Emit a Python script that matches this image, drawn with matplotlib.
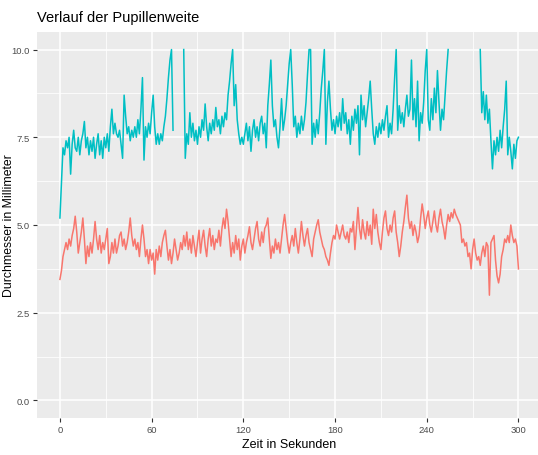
import numpy as np
import matplotlib
matplotlib.use("Agg")
import matplotlib.pyplot as plt
from matplotlib import font_manager

nan = np.nan

# Zeitachse in Sekunden (1 Wert pro Sekunde)
zeit = list(range(0, 301))

# Pupillendurchmesser in mm, Werte > 10 liegen ausserhalb der Skala (nan)
auge_oben = [
    5.2, 6.2, 7.2, 7.0, 7.4, 7.2, 7.5, 6.45, 7.3, 7.7,
    7.2, 7.1, 7.5, 7.0, 7.4, 7.6, 7.95, 7.2, 7.5, 7.0,
    7.4, 7.1, 7.5, 6.9, 7.3, 7.6, 7.0, 7.4, 6.9, 7.5,
    7.2, 7.6, 7.1, 7.8, 8.3, 7.6, 7.9, 7.6, 7.5, 7.7,
    7.3, 6.9, 8.7, 8.1, 7.6, 7.8, 7.4, 7.7, 7.5, 7.8,
    7.5, 8.0, 7.6, 8.3, 9.2, 6.85, 7.8, 7.5, 7.9, 7.6,
    8.2, 8.7, 7.8, 7.3, 7.6, 7.3, 7.6, 7.4, 7.8, 8.1,
    8.6, 9.2, 9.7, 10.0, 7.7, nan, nan, nan, nan, nan,
    nan, 10.0, 6.9, 7.6, 7.3, 8.2, 7.5, 7.9, 7.4, 7.7,
    7.3, 7.8, 7.5, 8.0, 7.7, 8.45, 7.8, 7.4, 7.9, 7.6,
    8.0, 7.7, 8.35, 7.8, 8.0, 7.6, 8.1, 7.8, 8.2, 8.0,
    8.7, 9.1, 9.6, 10.0, 8.4, 9.0, 8.0, 7.6, 7.3, 7.5,
    7.3, 7.6, 7.9, 7.4, 7.8, 7.1, 7.7, 8.0, 7.5, 7.8,
    7.4, 7.9, 8.1, 7.6, 7.9, 7.2, 8.4, 9.0, 9.7, 8.4,
    7.8, 8.0, 7.5, 7.2, 7.8, 8.6, 7.7, 8.0, 8.4, 9.0,
    9.6, 10.0, 9.0, 7.8, 8.1, 7.5, 7.9, 7.6, 8.1, 7.7,
    8.0, 8.5, 9.3, 10.0, 10.0, 7.3, 7.9, 7.5, 8.0, 7.6,
    8.2, 8.9, 9.4, 10.0, 7.3, 8.5, 9.1, 8.3, 7.7, 8.0,
    7.6, 8.1, 7.8, 8.2, 7.7, 8.6, 7.9, 8.2, 7.6, 8.0,
    7.3, 8.1, 7.7, 8.3, 7.9, 8.4, 7.0, 8.7, 8.0, 8.4,
    7.8, 8.2, 8.6, 9.1, 8.3, 7.6, 7.3, 7.8, 7.5, 7.9,
    7.6, 8.0, 7.7, 8.1, 8.4, 7.5, 7.9, 7.6, 8.3, 9.2,
    10.0, 7.7, 8.4, 7.9, 8.2, 7.8, 8.3, 8.7, 8.1, 8.3,
    9.7, 8.0, 8.6, 7.8, 9.1, 7.4, 8.2, 7.9, 8.5, 9.4,
    10.0, 8.0, 7.7, 8.6, 8.0, 8.9, 8.2, 9.4, 8.5, 7.7,
    8.3, 8.0, 8.7, 9.4, 10.0, nan, nan, nan, nan, nan,
    nan, nan, nan, nan, nan, nan, nan, nan, nan, nan,
    nan, nan, nan, nan, nan, 10.0, 8.2, 8.8, 8.0, 8.7,
    7.9, 8.3, 7.4, 6.6, 7.4, 7.0, 7.5, 7.1, 7.7, 7.2,
    7.8, 8.3, 9.1, 7.0, 7.5, 7.1, 6.6, 7.3, 6.9, 7.4,
    7.5,
]

auge_unten = [
    3.45, 3.7, 4.1, 4.3, 4.5, 4.3, 4.6, 4.4, 4.7, 4.9,
    5.25, 4.8, 4.2, 4.5, 4.8, 5.2, 4.6, 3.9, 4.4, 4.1,
    4.5, 4.2, 4.6, 5.1, 4.6, 4.3, 4.7, 4.2, 4.5, 4.3,
    4.6, 4.9, 3.9, 4.1, 4.5, 4.2, 4.6, 4.2, 4.4, 4.7,
    4.8, 4.4, 4.6, 4.3, 4.5, 4.8, 5.2, 4.7, 4.4, 4.6,
    4.3, 4.5, 4.1, 4.6, 5.0, 4.6, 4.1, 4.3, 3.9, 4.3,
    4.0, 4.2, 3.6, 4.3, 4.0, 4.4, 4.1, 4.5, 4.7, 4.85,
    4.4, 4.0, 4.3, 3.9, 4.2, 4.6, 4.3, 4.0, 4.2, 4.5,
    4.3, 4.7, 4.4, 4.8, 4.3, 4.6, 4.2, 4.7, 4.4, 4.1,
    4.5, 4.85, 4.2, 4.6, 4.85, 4.4, 4.1, 4.6, 4.9, 4.4,
    4.7, 4.3, 4.6, 4.5, 4.85, 4.4, 4.9, 5.2, 4.9, 5.45,
    5.1, 4.6, 4.1, 4.5, 4.2, 4.7, 4.3, 4.6, 4.0, 4.4,
    4.6, 4.2, 4.5, 4.7, 4.95, 4.5, 4.3, 4.6, 4.9, 5.1,
    4.6, 4.4, 4.8, 4.5, 4.9, 5.0, 5.2, 4.6, 4.05, 4.4,
    4.2, 4.6, 4.3, 4.5, 4.2, 4.6, 5.0, 5.3, 4.9, 4.5,
    4.2, 4.5, 4.7, 4.4, 4.9, 4.5, 4.2, 4.6, 5.1, 4.7,
    4.4, 4.7, 4.9, 4.5, 4.3, 4.1, 4.6, 4.8, 5.0, 5.15,
    4.8, 4.6, 4.4, 4.3, 4.1, 4.0, 3.85, 4.2, 4.5, 4.7,
    4.6, 5.0, 4.8, 4.6, 4.8, 5.0, 4.7, 4.6, 4.8, 4.5,
    4.9, 4.8, 5.1, 4.3, 4.9, 5.5, 4.9, 4.6, 5.15, 4.8,
    4.6, 5.1, 4.7, 5.0, 4.45, 5.45, 4.9, 5.3, 4.8, 4.5,
    4.3, 4.8, 5.2, 5.4, 4.9, 4.7, 5.0, 4.8, 5.2, 5.4,
    4.8, 4.5, 4.1, 4.4, 4.8, 5.1, 5.5, 5.85, 5.2, 4.9,
    5.1, 4.7, 5.0, 4.8, 4.5, 4.7, 5.2, 5.6, 5.3, 4.9,
    5.2, 5.4, 5.0, 4.8, 5.1, 5.4, 5.0, 4.8, 5.2, 5.45,
    5.1, 4.9, 4.6, 5.0, 5.3, 5.1, 5.35, 5.2, 5.45, 5.3,
    5.2, 5.1, 5.0, 4.5, 4.6, 4.4, 4.5, 4.1, 4.2, 3.75,
    4.3, 4.6, 4.2, 4.0, 4.1, 3.85, 4.2, 4.4, 4.1, 4.5,
    4.4, 3.0, 4.5, 4.6, 4.7, 4.0, 3.55, 3.35, 3.6, 4.1,
    4.3, 4.6, 4.5, 4.7, 4.5, 5.0, 4.7, 4.5, 4.6, 4.4,
    3.75,
]

x_ticks = [0, 60, 120, 180, 240, 300]
y_ticks = [0.0, 2.5, 5.0, 7.5, 10.0]

installed = {f.name for f in font_manager.fontManager.ttflist}
schrift = "Liberation Sans Narrow" if "Liberation Sans Narrow" in installed else "Liberation Sans"
plt.rcParams["font.family"] = [schrift, "DejaVu Sans"]

fig = plt.figure(figsize=(5.38, 4.56), dpi=100)
# Panel in Pixeln: links 37, rechts so dass 0..300 auf 61..518 liegt
px_per_s = (518.5 - 61) / 300
left = 37 / 538
right = (61 + 315 * px_per_s) / 538
ax = fig.add_axes([left, 37 / 456, right - left, (419 - 33) / 456])

ax.set_facecolor("#EBEBEB")
for s in ax.spines.values():
    s.set_visible(False)

ax.set_xlim(-15, 315)
ax.set_ylim(-0.5, 10.5)
ax.set_xticks(x_ticks)
ax.set_xticklabels([str(t) for t in x_ticks])
ax.set_yticks(y_ticks)
ax.set_yticklabels(["%.1f" % v for v in y_ticks])
ax.set_xticks([30, 90, 150, 210, 270], minor=True)
ax.set_yticks([1.25, 3.75, 6.25, 8.75], minor=True)
ax.grid(which="major", color="white", linewidth=1.1)
ax.grid(which="minor", color="white", linewidth=0.55)
ax.set_axisbelow(True)
ax.tick_params(which="major", length=3, width=0.8, color="#333333",
               labelsize=6.8, labelcolor="#4D4D4D", pad=2)
ax.tick_params(which="minor", length=0)

ax.plot(zeit, auge_unten, color="#F8766D", linewidth=1.1)
ax.plot(zeit, auge_oben, color="#00BFC4", linewidth=1.1)

ax.set_xlabel("Zeit in Sekunden", fontsize=9, labelpad=3)
fig.text(9 / 538, 1 - 226 / 456, "Durchmesser in Millimeter", fontsize=8.8,
         rotation=90, ha="center", va="center")
fig.text(37 / 538, 1 - 18 / 456, "Verlauf der Pupillenweite", fontsize=10.5,
         ha="left", va="center")

fig.savefig("out.png", dpi=100)
